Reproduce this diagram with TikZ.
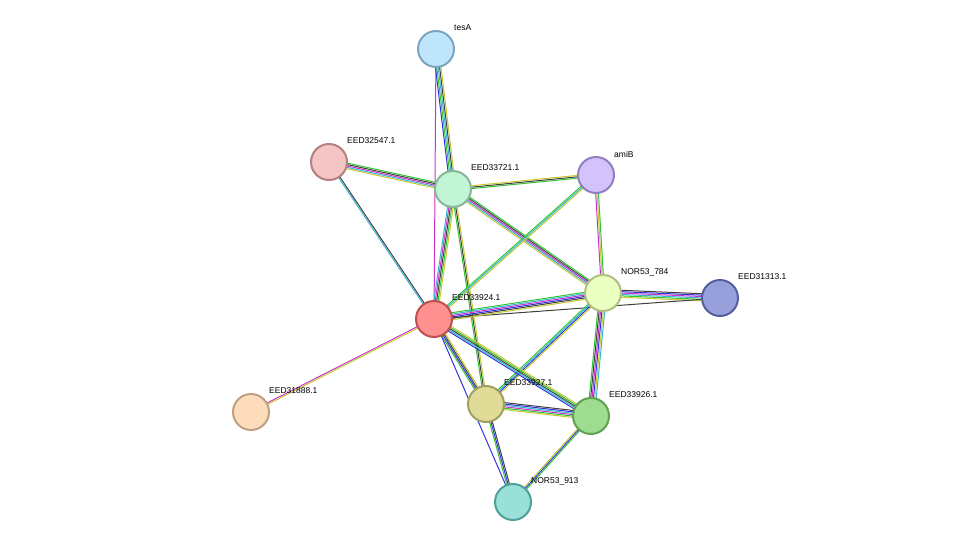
\documentclass[tikz,border=0pt]{standalone}
\usepackage{fontspec}
\setmainfont{Liberation Sans}
\usetikzlibrary{calc,backgrounds}

\definecolor{eg}{HTML}{33C433}
\definecolor{ec}{HTML}{33B8D0}
\definecolor{em}{HTML}{CC33CC}
\definecolor{ey}{HTML}{C8C833}
\definecolor{ek}{HTML}{404040}
\definecolor{eb}{HTML}{3333DD}

\tikzset{
    prot/.style={circle,minimum size=36pt,inner sep=0pt,line width=2pt},
    plabel/.style={anchor=west,inner sep=0pt,font=\fontsize{8.5}{10}\selectfont},
    edge/.style={line width=1pt}
}

% one protein: name, x, y, fill, border, text
\newcommand\prot[6]{%
    \definecolor{#1-fill}{HTML}{#4}%
    \definecolor{#1-draw}{HTML}{#5}%
    \node[prot,fill=#1-fill,draw=#1-draw] (#1) at (#2,#3) {};
    \node[plabel] (#1-l) at (#2+18,#3-21) {#6};
}

% one multi-coloured link between two proteins
\newcommand\link[3]{%
    \gdef\nlink{0}%
    \foreach \c in {#3} {\xdef\nlink{\the\numexpr\nlink+1}}%
    \foreach \c [count=\k] in {#3} {
        \pgfmathsetmacro\off{(\k-1-(\nlink-1)/2)*1.4}
        \draw[edge,\c] ($(#1.center)!\off pt!90:(#2.center)$) -- ($(#2.center)!\off pt!-90:(#1.center)$);
    }
}

\begin{document}
\begin{tikzpicture}[x=1pt,y=-1pt]
    \useasboundingbox (0,0) rectangle (975,548);

    \prot{tesA}{436}{49}{BFE5FB}{7AA6C2}{tesA}
    \prot{e32547}{329}{162}{F5C4C4}{B48080}{EED32547.1}
    \prot{e33721}{453}{189}{C2F5D5}{85B897}{EED33721.1}
    \prot{amiB}{596}{175}{D4C2FB}{9080C0}{amiB}
    \prot{n784}{603}{293}{EAFFC2}{B0C080}{NOR53\_784}
    \prot{e31313}{720}{298}{98A0DC}{5460A0}{EED31313.1}
    \prot{e33924}{434}{319}{FF9090}{C05050}{EED33924.1}
    \prot{e31888}{251}{412}{FDDCBB}{C0A080}{EED31888.1}
    \prot{e33927}{486}{404}{E0DC98}{A0A060}{EED33927.1}
    \prot{e33926}{591}{416}{9EDC90}{60A050}{EED33926.1}
    \prot{n913}{513}{502}{98E0D8}{50A098}{NOR53\_913}

    \begin{pgfonlayer}{background}
        \link{tesA}{e33924}{em}
        \link{tesA}{e33721}{eb,eg,ec,ek,ey}
        \link{e32547}{e33721}{ey,ec,em,ek,eg}
        \link{e32547}{e33924}{ec,ek}
        \link{e33721}{amiB}{eg,ek,ey}
        \link{e33721}{n784}{ey,ec,em,ek,eg}
        \link{e33721}{e33924}{ec,em,ek,eg,ey}
        \link{e33721}{e33927}{eg,ek,ey}
        \link{amiB}{e33924}{eg,ec,ey}
        \link{amiB}{n784}{em,ey,eg}
        \link{n784}{e31313}{ey,eg,ec,em,eb,ek}
        \link{e33924}{e31313}{ek}
        \link{n784}{e33924}{eg,ec,em,eb,ek,ey}
        \link{n784}{e33927}{eg,ec,eb,ey}
        \link{n784}{e33926}{eg,ek,em,eb,ey,ec}
        \link{e33924}{e31888}{em,ey}
        \link{e33924}{e33927}{eg,eb,ek,ey}
        \link{e33924}{e33926}{eb,ec,ek,eg,ey}
        \link{e33924}{n913}{eb}
        \link{e33927}{e33926}{ey,eg,em,ec,eb,ek}
        \link{e33927}{n913}{eg,eb,ek}
        \link{e33926}{n913}{ey,eb,eg}
    \end{pgfonlayer}
\end{tikzpicture}
\end{document}
